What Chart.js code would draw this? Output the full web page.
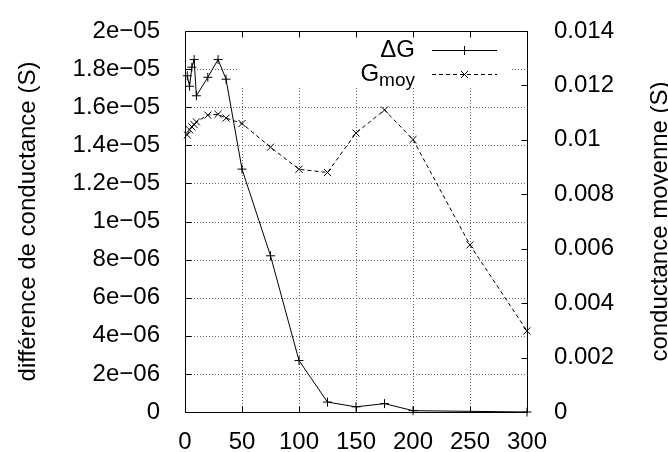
<!DOCTYPE html>
<html>
<head>
<meta charset="utf-8">
<script src="https://cdn.jsdelivr.net/npm/chart.js@4.4.1/dist/chart.umd.min.js"></script>
<style>
  html, body { margin: 0; padding: 0; background: #fff; }
  #wrap { width: 668px; height: 452px; }
</style>
</head>
<body>
<div id="wrap"><canvas id="chart" width="668" height="452"></canvas></div>
<script>
// ΔG series (left axis)
const deltaGX = [2, 4, 6, 8, 10, 20, 29, 36, 50, 75, 100, 125, 150, 175, 200, 300];
const deltaGValues = [1.765e-5, 1.71e-5, 1.81e-5, 1.85e-5, 1.66e-5, 1.757e-5, 1.85e-5, 1.747e-5,
    1.275e-5, 8.2e-6, 2.7e-6, 5.2e-7, 2.7e-7, 4.4e-7, 7e-8, 0];

// G_moy series (right axis)
const gMoyX = [2, 4, 6, 8, 10, 20, 29, 36, 50, 75, 100, 125, 150, 175, 200, 250, 300];
const gMoyValues = [0.01018, 0.01037, 0.01048, 0.01056, 0.01066, 0.01091, 0.01094, 0.0108,
    0.0106, 0.00973, 0.00892, 0.0088, 0.01025, 0.0111, 0.01001, 0.00614, 0.00298];

const xTicks = [0, 50, 100, 150, 200, 250, 300];
const xTickLabels = ['0', '50', '100', '150', '200', '250', '300'];
const yTicks = [0, 2e-6, 4e-6, 6e-6, 8e-6, 1e-5, 1.2e-5, 1.4e-5, 1.6e-5, 1.8e-5, 2e-5];
const yTickLabels = ['0', '2e\u221206', '4e\u221206', '6e\u221206', '8e\u221206', '1e\u221205',
    '1.2e\u221205', '1.4e\u221205', '1.6e\u221205', '1.8e\u221205', '2e\u221205'];
const y2Ticks = [0, 0.002, 0.004, 0.006, 0.008, 0.01, 0.012, 0.014];
const y2TickLabels = ['0', '0.002', '0.004', '0.006', '0.008', '0.01', '0.012', '0.014'];

const yTitle = 'différence de conductance (S)';
const y2Title = 'conductance moyenne (S)';
const legendItems = [
    { main: '\u0394G', sub: '', style: 'cross', dash: [] },
    { main: 'G', sub: 'moy', style: 'crossRot', dash: [4, 3] }
];

const FONT = "'Liberation Sans', Arial, Helvetica, sans-serif";
Chart.defaults.font.family = FONT;
Chart.defaults.font.size = 24;
Chart.defaults.color = '#000';

function keyBox(a) {
    return { left: a.right - 289, right: a.right - 17, top: a.top, bottom: a.top + 56 };
}

const gnuplotFrame = {
    id: 'gnuplotFrame',
    beforeDatasetsDraw(chart) {
        const { ctx, chartArea: a, scales } = chart;
        const k = keyBox(a);
        ctx.save();
        ctx.beginPath();
        ctx.rect(a.left, a.top, a.right - a.left, a.bottom - a.top);
        ctx.rect(k.left, k.top, k.right - k.left, k.bottom - k.top);
        ctx.clip('evenodd');
        ctx.strokeStyle = '#666';
        ctx.lineWidth = 1;
        ctx.setLineDash([1, 2]);
        ctx.beginPath();
        xTicks.slice(1, -1).forEach(v => {
            const px = Math.round(scales.x.getPixelForValue(v)) + 0.5;
            ctx.moveTo(px, a.top);
            ctx.lineTo(px, a.bottom);
        });
        yTicks.slice(1, -1).forEach(v => {
            const py = Math.round(scales.y.getPixelForValue(v)) + 0.5;
            ctx.moveTo(a.left, py);
            ctx.lineTo(a.right, py);
        });
        ctx.stroke();
        ctx.restore();
    },
    afterDatasetsDraw(chart) {
        const { ctx, chartArea: a, scales } = chart;
        const L = Math.round(a.left) + 0.5, R = Math.round(a.right) + 0.5;
        const T = Math.round(a.top) + 0.5, B = Math.round(a.bottom) + 0.5;
        const tl = 6;
        ctx.save();
        ctx.strokeStyle = '#000';
        ctx.lineWidth = 1;
        ctx.setLineDash([]);
        ctx.beginPath();
        ctx.rect(L, T, R - L, B - T);
        xTicks.forEach(v => {
            const px = Math.round(scales.x.getPixelForValue(v)) + 0.5;
            ctx.moveTo(px, B); ctx.lineTo(px, B - tl);
            ctx.moveTo(px, T); ctx.lineTo(px, T + tl);
        });
        yTicks.forEach(v => {
            const py = Math.round(scales.y.getPixelForValue(v)) + 0.5;
            ctx.moveTo(L, py); ctx.lineTo(L + tl, py);
        });
        y2Ticks.forEach(v => {
            const py = Math.round(scales.y2.getPixelForValue(v)) + 0.5;
            ctx.moveTo(R, py); ctx.lineTo(R - tl, py);
        });
        ctx.stroke();

        // key
        const k = keyBox(a);
        const sampleEnd = a.right - 30, sampleStart = a.right - 95, textRight = a.right - 112;
        legendItems.forEach((item, i) => {
            const yy = Math.round(a.top + 19 + i * 24) + 0.5;
            ctx.font = '24px ' + FONT;
            ctx.fillStyle = '#000';
            ctx.textBaseline = 'middle';
            ctx.textAlign = 'left';
            let wMain = ctx.measureText(item.main).width;
            let wSub = 0;
            if (item.sub) {
                ctx.font = '19px ' + FONT;
                wSub = ctx.measureText(item.sub).width;
            }
            const x0 = textRight - wMain - wSub;
            ctx.font = '24px ' + FONT;
            ctx.fillText(item.main, x0, yy);
            if (item.sub) {
                ctx.font = '19px ' + FONT;
                ctx.fillText(item.sub, x0 + wMain, yy + 6);
            }
            ctx.beginPath();
            ctx.setLineDash(item.dash);
            ctx.moveTo(sampleStart, yy);
            ctx.lineTo(sampleEnd, yy);
            ctx.stroke();
            ctx.setLineDash([]);
            Chart.helpers.drawPoint(ctx, {
                pointStyle: item.style, radius: item.style === 'cross' ? 4.5 : 5, borderWidth: 1, rotation: 0
            }, (sampleStart + sampleEnd) / 2, yy);
        });

        // axis titles (both read bottom to top)
        const cy = (a.top + a.bottom) / 2;
        ctx.font = '24px ' + FONT;
        ctx.fillStyle = '#000';
        ctx.textAlign = 'center';
        ctx.textBaseline = 'alphabetic';
        ctx.save();
        ctx.translate(34.5, cy);
        ctx.rotate(-Math.PI / 2);
        ctx.fillText(yTitle, 0, 0);
        ctx.restore();
        ctx.save();
        ctx.translate(667, cy);
        ctx.rotate(-Math.PI / 2);
        ctx.fillText(y2Title, 0, 0);
        ctx.restore();
        ctx.restore();
    }
};

const tickFont = { size: 24, lineHeight: 1 };

new Chart(document.getElementById('chart').getContext('2d'), {
    type: 'line',
    data: {
        datasets: [{
            label: '\u0394G',
            data: deltaGX.map((x, i) => ({ x: x, y: deltaGValues[i] })),
            yAxisID: 'y',
            borderColor: '#000',
            backgroundColor: '#000',
            borderWidth: 1,
            pointStyle: 'cross',
            pointRadius: 4.5,
            pointBorderWidth: 1,
            pointBorderColor: '#000',
            tension: 0,
            fill: false,
            clip: false
        }, {
            label: 'Gmoy',
            data: gMoyX.map((x, i) => ({ x: x, y: gMoyValues[i] })),
            yAxisID: 'y2',
            borderColor: '#000',
            backgroundColor: '#000',
            borderWidth: 1,
            borderDash: [4, 3],
            pointStyle: 'crossRot',
            pointRadius: 5,
            pointBorderWidth: 1,
            pointBorderColor: '#000',
            tension: 0,
            fill: false,
            clip: false
        }]
    },
    options: {
        responsive: false,
        animation: false,
        events: [],
        layout: { padding: { top: 14, left: 0, right: 0, bottom: 0 } },
        plugins: { legend: { display: false }, tooltip: { enabled: false } },
        scales: {
            x: {
                type: 'linear',
                min: 0,
                max: 300,
                grid: { display: false },
                border: { display: false },
                afterBuildTicks: s => { s.ticks = xTicks.map(v => ({ value: v })); },
                ticks: { font: tickFont, padding: 10, maxRotation: 0, autoSkip: false,
                    callback: (v, i) => xTickLabels[i] },
                afterFit: s => { s.height = 40; }
            },
            y: {
                type: 'linear',
                position: 'left',
                min: 0,
                max: 2e-5,
                grid: { display: false },
                border: { display: false },
                afterBuildTicks: s => { s.ticks = yTicks.map(v => ({ value: v })); },
                ticks: { font: tickFont, padding: 17, autoSkip: false,
                    callback: (v, i) => yTickLabels[i] },
                afterFit: s => { s.width = 185; }
            },
            y2: {
                type: 'linear',
                position: 'right',
                min: 0,
                max: 0.014,
                grid: { display: false },
                border: { display: false },
                afterBuildTicks: s => { s.ticks = y2Ticks.map(v => ({ value: v })); },
                ticks: { font: tickFont, padding: 19, autoSkip: false,
                    callback: (v, i) => y2TickLabels[i] },
                afterFit: s => { s.width = 141; }
            }
        }
    },
    plugins: [gnuplotFrame]
});
</script>
</body>
</html>
